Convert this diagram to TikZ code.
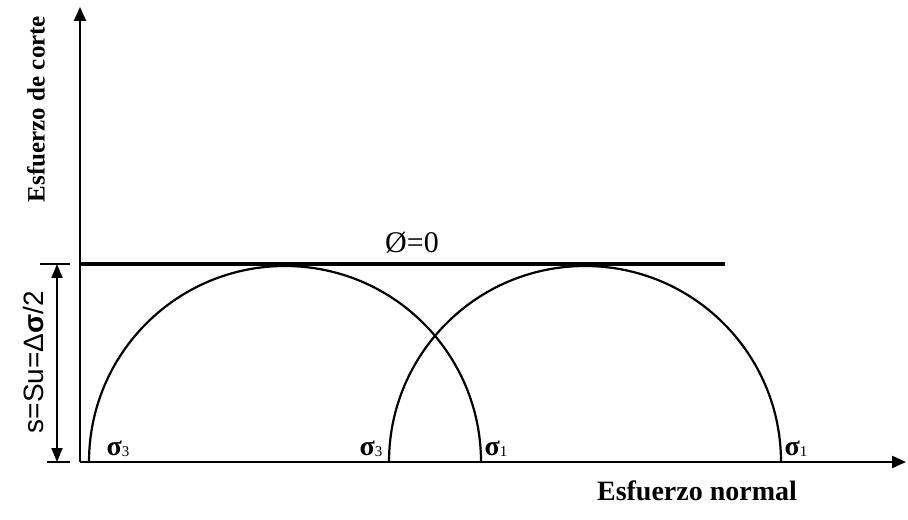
\documentclass[tikz,border=0pt]{standalone}
\usepackage{fontspec}
\setmainfont{Liberation Serif}
\newfontfamily\narrowsans{Liberation Sans}
\usetikzlibrary{arrows.meta,calc}
\tikzset{ax/.style={line width=1.2pt,-{Triangle[length=7pt,width=6pt]}},
  mohr/.style={line width=1.1pt},
  sig/.style={font=\bfseries\fontsize{14}{14}\selectfont, inner sep=0pt}}

\begin{document}
\begin{tikzpicture}[x=0.5pt,y=0.5pt]
  \useasboundingbox (0,0) rectangle (908,519);
  \coordinate (O) at (80,57);
  \coordinate (ytop) at (80,512);
  \coordinate (xend) at (906,57);
  \coordinate (envL) at (80,255);
  \coordinate (envR) at (725,255);
  \coordinate (dimT) at (57,255);
  \coordinate (dimB) at (57,57);
  % axes and envelope
  \draw[ax] (O) -- (ytop);
  \draw[ax] (O) -- (xend);
  \draw[line width=1.7pt] (envL) -- (envR);
  % Mohr circles
  \foreach \c in {285,585}
    \draw[mohr] (\c+196,57) arc (0:180:196);
  % dimension s
  \draw[line width=0.9pt] (40,255) -- (70,255);
  \draw[line width=0.9pt] (47,57) -- (70,57);
  \draw[line width=1pt,{Triangle[length=7pt,width=5.5pt]}-{Triangle[length=7pt,width=5.5pt]}] (dimT) -- (dimB);
  % labels
  \foreach \x/\i [count=\k] in {118/3,371/3,496/1,796/1}
    \node[sig] (sig\k) at (\x,70) {σ\raisebox{-0.5pt}{\mdseries\fontsize{7.5}{8}\selectfont\i}};
  \node[font=\fontsize{15}{15}\selectfont] (phi) at (412,276) {Ø=0};
  \node[font=\bfseries\fontsize{14}{14}\selectfont] (xlab) at (697,28) {Esfuerzo normal};
  \node[rotate=90, font=\bfseries\fontsize{12.5}{12.5}\selectfont] (ylab) at (36,410) {Esfuerzo de corte};
  \node[rotate=90, font=\narrowsans\fontsize{14}{14}\selectfont] (su) at (33,157) {s=Su=Δ\textbf{σ}/2};
\end{tikzpicture}
\end{document}
